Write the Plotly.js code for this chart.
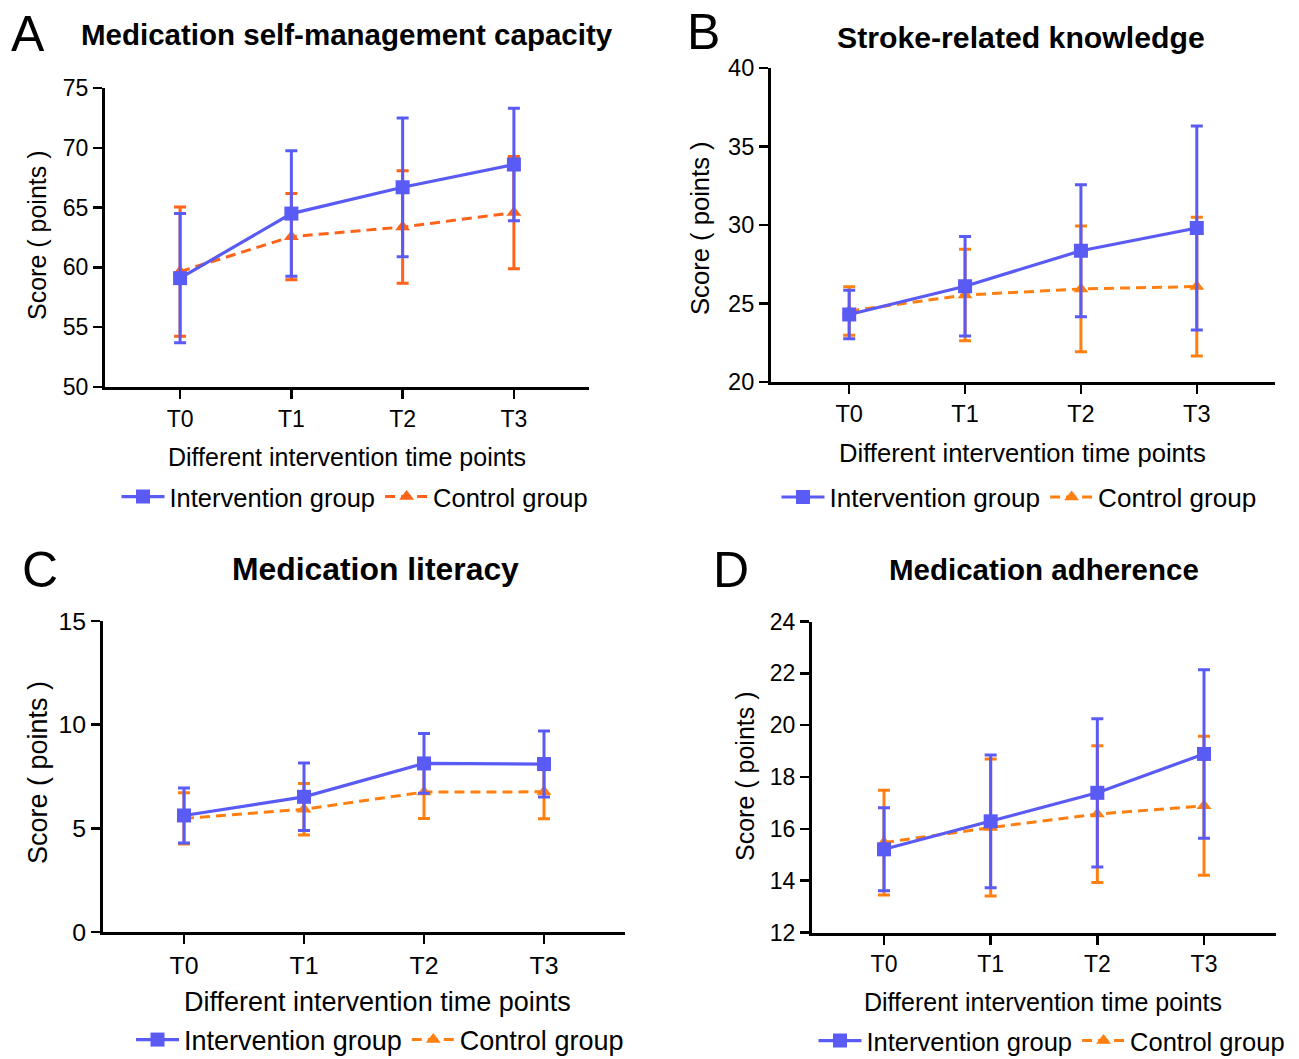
<!DOCTYPE html>
<html><head><meta charset="utf-8">
<script src="https://cdn.plot.ly/plotly-3.0.1.min.js"></script>
<style>html,body{margin:0;padding:0;background:#fff}#chart{width:1299px;height:1059px}</style>
</head><body><div id="chart"></div>
<script>
// ---------- data ----------
const categories = ['T0', 'T1', 'T2', 'T3'];
const panelLetters = ['A', 'B', 'C', 'D'];
const panelTitles = ['Medication self-management capacity', 'Stroke-related knowledge', 'Medication literacy', 'Medication adherence'];
const xAxisTitle = 'Different intervention time points';
const yAxisTitle = 'Score ( points )';
const seriesNames = ['Intervention group', 'Control group'];

const selfMgmtIntervention   = [59.1, 64.5, 66.7, 68.6];
const selfMgmtInterventionSD = [5.4, 5.25, 5.8, 4.7];
const selfMgmtControl        = [59.65, 62.57, 63.38, 64.58];
const selfMgmtControlSD      = [5.4, 3.6, 4.7, 4.7];

const knowledgeIntervention   = [24.3, 26.1, 28.36, 29.81];
const knowledgeInterventionSD = [1.54, 3.17, 4.2, 6.49];
const knowledgeControl        = [24.52, 25.54, 25.93, 26.08];
const knowledgeControlSD      = [1.54, 2.92, 4.01, 4.42];

const literacyIntervention   = [5.62, 6.52, 8.13, 8.1];
const literacyInterventionSD = [1.33, 1.63, 1.44, 1.59];
const literacyControl        = [5.48, 5.92, 6.75, 6.76];
const literacyControlSD      = [1.24, 1.24, 1.27, 1.3];

const adherenceIntervention   = [15.21, 16.29, 17.39, 18.89];
const adherenceInterventionSD = [1.6, 2.56, 2.86, 3.25];
const adherenceControl        = [15.47, 16.05, 16.57, 16.89];
const adherenceControlSD      = [2.02, 2.64, 2.64, 2.68];

const yRanges = [[50, 75], [20, 40], [0, 15], [12, 24]];
const yDticks = [5, 5, 5, 2];

// ---------- styling / geometry ----------
const W = 1299, H = 1059;
const px = x => x / W;
const py = y => 1 - y / H;
const FONT = 'Liberation Sans, Arial, Helvetica, sans-serif';
const BLUE = '#5A5AF5';
const TICK_SIZE = 23, AXIS_TITLE_SIZE = 25, LEGEND_SIZE = 25.5, TITLE_SIZE = 29.5, LETTER_SIZE = 50;

const panelData = [
  [selfMgmtIntervention, selfMgmtInterventionSD, selfMgmtControl, selfMgmtControlSD],
  [knowledgeIntervention, knowledgeInterventionSD, knowledgeControl, knowledgeControlSD],
  [literacyIntervention, literacyInterventionSD, literacyControl, literacyControlSD],
  [adherenceIntervention, adherenceInterventionSD, adherenceControl, adherenceControlSD]
];

const geom = [
  {x0: 105, x1: 589, yTop: 88, yBot: 387, s: 1.0, ls: 1.0, orange: '#FF6219', title: [347, 35], letter: [28, 34], xt: [347, 457], yt: [37, 235], leg: [355, 497]},
  {x0: 771, x1: 1275, yTop: 68, yBot: 382, s: 1.025, ls: 1.025, orange: '#FF7F11', title: [1021, 37], letter: [703, 32], xt: [1022, 453], yt: [700, 228], leg: [1019, 497]},
  {x0: 103, x1: 625, yTop: 621, yBot: 932, s: 1.08, ls: 1.06, orange: '#FF7F11', title: [375, 569], letter: [40, 570], xt: [377, 1002], yt: [38, 773], leg: [380, 1040]},
  {x0: 812, x1: 1276, yTop: 621.5, yBot: 932.5, s: 1.0, ls: 1.0, orange: '#FF7F11', title: [1044, 569], letter: [731, 570], xt: [1043, 1002], yt: [745, 776], leg: [1052, 1041]}
];

const traces = [];
const layout = {
  width: W, height: H,
  margin: {l: 0, r: 0, t: 0, b: 0, autoexpand: false},
  paper_bgcolor: '#fff', plot_bgcolor: '#fff',
  font: {family: FONT, color: '#000', size: TICK_SIZE},
  annotations: []
};

geom.forEach((g, i) => {
  const n = i === 0 ? '' : String(i + 1);
  const xa = 'x' + n, ya = 'y' + n;
  const legName = 'legend' + n;
  const [iv, ivSD, cv, cvSD] = panelData[i];

  // control first so intervention is drawn on top
  traces.push({
    type: 'scatter', mode: 'lines+markers', x: categories, y: cv,
    name: seriesNames[1], xaxis: xa, yaxis: ya, legend: legName, legendrank: 2,
    line: {color: g.orange, width: 3, dash: '10px,6px'},
    marker: {symbol: 'triangle-up', size: 13, color: g.orange},
    error_y: {type: 'data', array: cvSD, visible: true, color: g.orange, thickness: 3, width: 6},
    cliponaxis: false
  });
  traces.push({
    type: 'scatter', mode: 'lines+markers', x: categories, y: iv,
    name: seriesNames[0], xaxis: xa, yaxis: ya, legend: legName, legendrank: 1,
    line: {color: BLUE, width: 3.2},
    marker: {symbol: 'square', size: 14, color: BLUE},
    error_y: {type: 'data', array: ivSD, visible: true, color: BLUE, thickness: 3, width: 6},
    cliponaxis: false
  });

  const tf = {size: TICK_SIZE * g.s, family: FONT, color: '#000'};
  layout['xaxis' + n] = {
    domain: [px(g.x0), px(g.x1)], anchor: ya, type: 'category',
    range: [-0.675, 3.675], showgrid: false, zeroline: false,
    showline: true, linecolor: '#000', linewidth: 3,
    ticks: 'outside', ticklen: 9, tickwidth: 2.5, tickcolor: '#000',
    tickfont: tf, fixedrange: true
  };
  layout['yaxis' + n] = {
    domain: [py(g.yBot), py(g.yTop)], anchor: xa,
    range: yRanges[i], dtick: yDticks[i], tick0: yRanges[i][0],
    showgrid: false, zeroline: false,
    showline: true, linecolor: '#000', linewidth: 3,
    ticks: 'outside', ticklen: 9, tickwidth: 2.5, tickcolor: '#000',
    tickfont: tf, fixedrange: true
  };
  layout[legName] = {
    orientation: 'h', x: px(g.leg[0]), xanchor: 'center', y: py(g.leg[1]), yanchor: 'middle',
    font: {size: LEGEND_SIZE * g.ls, family: FONT, color: '#000'}, bgcolor: 'rgba(0,0,0,0)',
    itemwidth: 43
  };

  layout.annotations.push(
    {text: '<b>' + panelTitles[i] + '</b>', x: px(g.title[0]), y: py(g.title[1]), xref: 'paper', yref: 'paper',
     xanchor: 'center', yanchor: 'middle', showarrow: false, font: {size: TITLE_SIZE * g.s, family: FONT, color: '#000'}},
    {text: panelLetters[i], x: px(g.letter[0]), y: py(g.letter[1]), xref: 'paper', yref: 'paper',
     xanchor: 'center', yanchor: 'middle', showarrow: false, font: {size: LETTER_SIZE, family: FONT, color: '#000'}},
    {text: xAxisTitle, x: px(g.xt[0]), y: py(g.xt[1]), xref: 'paper', yref: 'paper',
     xanchor: 'center', yanchor: 'middle', showarrow: false, font: {size: AXIS_TITLE_SIZE * g.s, family: FONT, color: '#000'}},
    {text: yAxisTitle, x: px(g.yt[0]), y: py(g.yt[1]), xref: 'paper', yref: 'paper', textangle: -90,
     xanchor: 'center', yanchor: 'middle', showarrow: false, font: {size: AXIS_TITLE_SIZE * g.s, family: FONT, color: '#000'}}
  );
});

Plotly.newPlot('chart', traces, layout, {displayModeBar: false, staticPlot: true});
</script>
</body></html>
